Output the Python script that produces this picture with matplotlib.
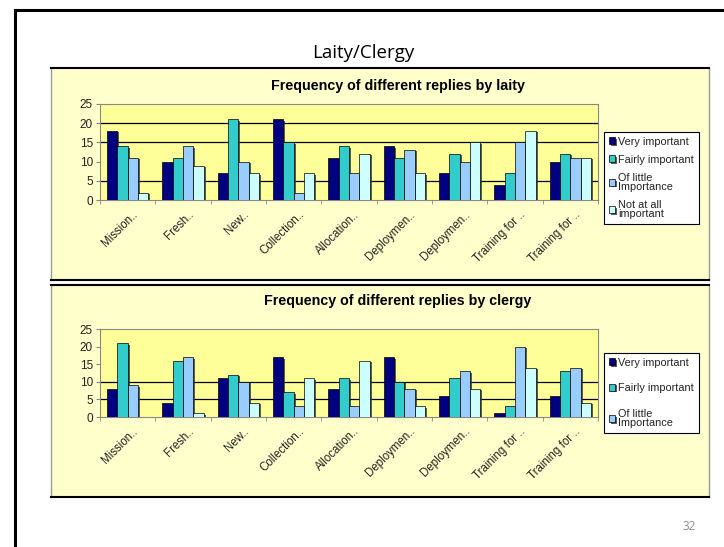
import numpy as np
import matplotlib
matplotlib.use('Agg')
import matplotlib.pyplot as plt
import matplotlib.patheffects as pe
from matplotlib.lines import Line2D

plt.rcParams['font.family'] = ['Liberation Sans', 'DejaVu Sans']

categories = ['Mission..', 'Fresh..', 'New..', 'Collection..', 'Allocation..',
              'Deploymen..', 'Deploymen..', 'Training for ..', 'Training for ..']
series = ['Very important', 'Fairly important', 'Of little\nImportance', 'Not at all\nimportant']
colors = ['#000080', '#33CCCC', '#99CCFF', '#CCFFFF']

laity_very = [18, 10, 7, 21, 11, 14, 7, 4, 10]
laity_fairly = [14, 11, 21, 15, 14, 11, 12, 7, 12]
laity_little = [11, 14, 10, 2, 7, 13, 10, 15, 11]
laity_not = [2, 9, 7, 7, 12, 7, 15, 18, 11]

clergy_very = [8, 4, 11, 17, 8, 17, 6, 1, 6]
clergy_fairly = [21, 16, 12, 7, 11, 10, 11, 3, 13]
clergy_little = [9, 17, 10, 3, 3, 8, 13, 20, 14]
clergy_not = [0, 1, 4, 11, 16, 3, 8, 14, 4]

W, H = 724, 547
fig = plt.figure(figsize=(W / 100, H / 100), dpi=100)
fig.patch.set_facecolor('white')


def fx(px):
    return px / W


def fy(py):
    return 1 - py / H


# slide border (top and left only)
fig.add_artist(Line2D([fx(15), fx(15)], [fy(10), 0], color='black', lw=2.2))
fig.add_artist(Line2D([fx(15), 1], [fy(10), fy(10)], color='black', lw=2.2))
fig.text(fx(363), fy(58), 'Laity/Clergy', ha='center', va='baseline', fontsize=13.5,
         family=['Open Sans', 'DejaVu Sans'])
fig.text(fx(689), fy(527), '32', ha='center', va='center', fontsize=8.5, color='#8c8c8c',
         family=['Open Sans', 'DejaVu Sans'])


def panel(top, bottom):
    p = fig.add_axes([fx(51), fy(bottom), fx(709 - 51), (bottom - top) / H])
    p.set_facecolor('#FFFFCC')
    p.set_xticks([])
    p.set_yticks([])
    for s in ['left', 'right']:
        p.spines[s].set_color('#999999')
        p.spines[s].set_linewidth(1)
    for s in ['top', 'bottom']:
        p.spines[s].set_color('black')
        p.spines[s].set_linewidth(1.5)
    return p


def chart(top, bottom, data, title, title_y, grid, nleg, leg_top, spacing):
    panel(top[0], top[1])
    ax = fig.add_axes([fx(100), fy(bottom), fx(598 - 100), (bottom - top[2]) / H])
    ax.set_facecolor('#FFFF99')
    x = np.arange(len(categories))
    w = 0.186
    for i, vals in enumerate(data):
        ax.bar(x + (i - 1.5) * w, vals, w, color=colors[i], edgecolor='black', lw=0.5,
               label=series[i], zorder=3,
               path_effects=[pe.SimplePatchShadow(offset=(1.5, -1), shadow_rgbFace='#333333', alpha=0.8),
                             pe.Normal()])
    for g in grid:
        ax.axhline(g, color='black', lw=0.9, zorder=1)
    ax.set_xlim(-0.5, len(categories) - 0.5)
    ax.set_ylim(0, 25)
    ax.set_yticks(range(0, 26, 5))
    # labels sit a little right of the group centre, as in Excel
    ax.set_xticks(x + 0.08)
    ax.set_xticklabels(categories, rotation=45, ha='right', va='top', rotation_mode='anchor',
                       fontsize=8.3, color='#222222')
    ax.set_xticks(np.arange(-0.5, len(categories), 1), minor=True)
    ax.tick_params(axis='x', which='major', length=0, pad=6)
    ax.tick_params(axis='x', which='minor', length=3, color='#888888')
    ax.tick_params(axis='y', length=3, color='#888888', labelsize=8.5, pad=2,
                   labelcolor='#222222')
    for s in ax.spines.values():
        s.set_color('#888888')
        s.set_linewidth(0.8)
    fig.text(fx(398), fy(title_y), title, ha='center', va='center', fontsize=10.3,
             fontweight='bold')
    h, l = ax.get_legend_handles_labels()
    leg = fig.legend(h[:nleg], l[:nleg], loc='upper left',
                     bbox_to_anchor=(fx(604), fy(leg_top)), fontsize=7.8,
                     handlelength=0.6, handleheight=0.6, handletextpad=0.25,
                     labelspacing=spacing, borderpad=0.45, borderaxespad=0,
                     frameon=True, fancybox=False, edgecolor='black', framealpha=1)
    leg.get_frame().set_linewidth(0.8)
    for t in leg.get_texts():
        t.set_linespacing(0.9)
        t.set_color('#222222')
    return ax


chart((68, 280, 103.7), 200.3, [laity_very, laity_fairly, laity_little, laity_not],
      'Frequency of different replies by laity', 86, [5, 15, 20], 4, 131.7, 0.75)
chart((285, 497, 329.3), 417, [clergy_very, clergy_fairly, clergy_little, clergy_not],
      'Frequency of different replies by clergy', 300.5, [5, 10], 3, 352.7, 1.45)

fig.savefig('out.png', dpi=100)
